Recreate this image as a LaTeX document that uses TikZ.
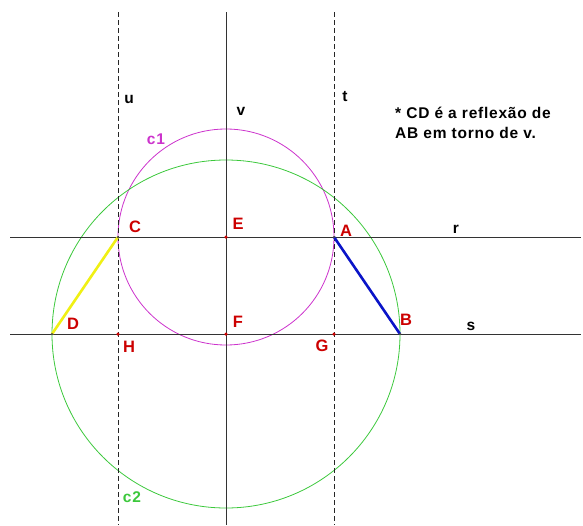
\documentclass[tikz,border=0pt]{standalone}
\usepackage{fontspec}
\setmainfont{Liberation Sans}
\newfontfamily\lblfont[LetterSpace=5]{Liberation Sans Bold}
\begin{document}
\begin{tikzpicture}[x=1pt,y=-1pt,
  axisline/.style={draw=black!80,line width=0.9pt},
  guide/.style={draw=black!85,line width=0.9pt,dash pattern=on 5pt off 3pt},
  lbl/.style={text=red!80!black,font=\lblfont\fontsize{16.5}{18}\selectfont,inner sep=0pt},
  nametag/.style={text=black,font=\lblfont\fontsize{15.5}{18}\selectfont,inner sep=0pt},
  pt/.style={circle,fill=red!80!black,inner sep=0pt,minimum size=3.5pt}]
\useasboundingbox (0,0) rectangle (583,525);
% points
\coordinate (C) at (118,237);
\coordinate (E) at (226,237);
\coordinate (A) at (334,237);
\coordinate (D) at (52,334);
\coordinate (H) at (118,334);
\coordinate (F) at (226,334);
\coordinate (G) at (334,334);
\coordinate (B) at (400,334);
\coordinate (uT) at (118,12);  \coordinate (uB) at (118,525);
\coordinate (vT) at (226,12);  \coordinate (vB) at (226,525);
\coordinate (tT) at (334,12);  \coordinate (tB) at (334,525);
\coordinate (rL) at (10,237);  \coordinate (rR) at (581,237);
\coordinate (sL) at (10,334);  \coordinate (sR) at (581,334);
% circles
\draw[draw={rgb,255:red,204;green,51;blue,204},line width=0.8pt] (E) circle[radius=108];
\draw[draw={rgb,255:red,60;green,200;blue,60},line width=0.8pt] (F) circle[radius=174];
% lines
\draw[axisline] (rL) -- (rR);
\draw[axisline] (sL) -- (sR);
\draw[axisline] (vT) -- (vB);
\draw[guide] (uT) -- (uB);
\draw[guide] (tT) -- (tB);
% segments
\draw[draw={rgb,255:red,240;green,240;blue,20},line width=2.6pt] (C) -- (D);
\draw[draw={rgb,255:red,10;green,20;blue,200},line width=2.6pt] (A) -- (B);
% point marks
\foreach \p in {E,F,H,G} \node[pt] at (\p) {};
\foreach \p in {C,A,D,B} \node[circle,fill=black!70,inner sep=0pt,minimum size=2.5pt] at (\p) {};
% labels
\node[lbl] (lC) at (135,227) {C};
\node[lbl] (lE) at (238,224) {E};
\node[lbl] (lA) at (346,231) {A};
\node[lbl] (lD) at (73,324) {D};
\node[lbl] (lF) at (238,322) {F};
\node[lbl] (lB) at (406,320) {B};
\node[lbl] (lH) at (129,347) {H};
\node[lbl] (lG) at (322,346) {G};
\node[nametag] (lu) at (129,99) {u};
\node[nametag] (lv) at (241,111) {v};
\node[nametag] (lt) at (345,97) {t};
\node[nametag] (lr) at (456,229) {r};
\node[nametag] (ls) at (471,326) {s};
\node[nametag,text={rgb,255:red,204;green,51;blue,204}] (lc1) at (156,139) {c1};
\node[nametag,text={rgb,255:red,60;green,200;blue,60}] (lc2) at (132,497) {c2};
\node[nametag,anchor=base west,align=left,font=\lblfont\fontsize{15.5}{20}\selectfont] (note) at (395,138)
  {* CD é a reflexão de\\AB em torno de v.};
\end{tikzpicture}
\end{document}
